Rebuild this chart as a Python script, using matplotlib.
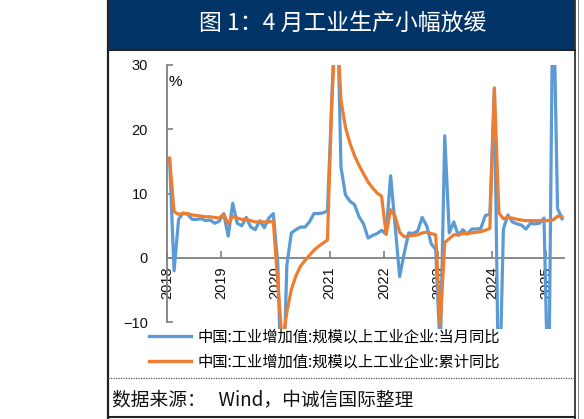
import numpy as np
import matplotlib
matplotlib.use('Agg')
import matplotlib.pyplot as plt
from matplotlib.lines import Line2D
from matplotlib.patches import Rectangle
import pandas as pd

# ---------------- data ----------------
months = pd.period_range('2018-01', '2025-04', freq='M')
year_labels = ['2018', '2019', '2020', '2021', '2022', '2023', '2024', '2025']

monthly_yoy = (
    [15.5, -2.0, 6.0, 7.0, 6.8, 6.0, 6.0, 6.1, 5.8, 5.9, 5.4, 5.7]      # 2018
    + [6.9, 3.4, 8.5, 5.4, 5.0, 6.3, 4.8, 4.4, 5.8, 4.7, 6.2, 6.9]     # 2019
    + [-1.0, -25.9, -1.1, 3.9, 4.4, 4.8, 4.8, 5.6, 6.9, 6.9, 7.0, 7.3]  # 2020
    + [25.0, 45.0, 14.1, 9.8, 8.8, 8.3, 6.4, 5.3, 3.1, 3.5, 3.8, 4.3]  # 2021
    + [3.7, 12.8, 5.0, -2.9, 0.7, 3.9, 3.8, 4.2, 6.3, 5.0, 2.2, 1.3]   # 2022
    + [-15.0, 19.0, 3.9, 5.6, 3.5, 4.4, 3.7, 4.5, 4.5, 4.6, 6.6, 6.8]  # 2023
    + [26.4, -25.0, 4.5, 6.7, 5.6, 5.3, 5.1, 4.5, 5.4, 5.3, 5.4, 6.2]  # 2024
    + [-25.0, 45.0, 7.7, 6.1]                                          # 2025
)
cumulative_yoy = (
    [15.5, 7.2, 6.8, 6.9, 6.9, 6.7, 6.6, 6.5, 6.4, 6.4, 6.3, 6.2]       # 2018
    + [6.8, 5.3, 6.5, 6.2, 6.0, 6.0, 5.8, 5.6, 5.6, 5.6, 5.6, 5.7]     # 2019
    + [-4.0, -13.5, -8.4, -4.9, -2.8, -1.3, -0.4, 0.4, 1.2, 1.8, 2.3, 2.8]  # 2020
    + [25.0, 38.0, 24.5, 20.3, 17.8, 15.9, 14.4, 13.1, 11.8, 10.9, 10.1, 9.6]  # 2021
    + [3.7, 7.5, 6.5, 4.0, 3.3, 3.4, 3.5, 3.6, 3.9, 4.0, 3.8, 3.6]     # 2022
    + [-10.5, 2.4, 3.0, 3.6, 3.6, 3.8, 3.8, 3.9, 4.0, 4.1, 4.3, 4.6]   # 2023
    + [26.4, 7.0, 6.1, 6.3, 6.2, 6.0, 5.9, 5.8, 5.8, 5.8, 5.8, 5.8]    # 2024
    + [5.8, 5.9, 6.5, 6.4]                                             # 2025
)
series_names = ['中国:工业增加值:规模以上工业企业:当月同比',
                '中国:工业增加值:规模以上工业企业:累计同比']
title_text = '图 1：4 月工业生产小幅放缓'
source_text = '数据来源：   Wind，中诚信国际整理'

# ---------------- figure ----------------
W, H = 584, 419
fig = plt.figure(figsize=(W / 100, H / 100), dpi=100)
fig.patch.set_facecolor('white')

def fx(px):
    return px / W

def fy(py):
    return 1 - py / H

cjk = ['Noto Sans CJK SC', 'DejaVu Sans']
num_font = ['Liberation Sans', 'DejaVu Sans']

# title bar
fig.add_artist(Rectangle((fx(108), fy(50)), fx(575) - fx(108), 50 / H,
                         transform=fig.transFigure, facecolor='#033468',
                         edgecolor='none', zorder=0))
fig.text(fx(343), fy(23), title_text, color='white', fontsize=16.5,
         ha='center', va='center', family=cjk)

# frame lines
def fline(xs, ys, **kw):
    fig.add_artist(Line2D([fx(v) for v in xs], [fy(v) for v in ys],
                          transform=fig.transFigure, **kw))

fline([108, 108], [0, 419], color='#222222', lw=1.6)
fline([575, 575], [0, 419], color='#333333', lw=1.3)
fline([577.5, 577.5], [0, 419], color='#888888', lw=0.8)
fline([108, 575], [50.5, 50.5], color='#222222', lw=1.5)
fline([108, 575], [378, 378], color='#555555', lw=0.9, ls=(0, (1, 1)))
fline([108, 575], [417, 417], color='#222222', lw=1.5)

# ---------------- axes ----------------
ymin, ymax = -11, 30
top_px, zero_px, per10 = 65.0, 258.0, 64.3
bot_px = zero_px + (-ymin) * per10 / 10
left_px, right_px = 167.3, 564.3
ax = fig.add_axes([fx(left_px), fy(bot_px), fx(right_px) - fx(left_px),
                   (bot_px - top_px) / H])
ax.set_facecolor('none')

x = np.arange(len(months)) + 0.5
ax.plot(x, monthly_yoy, color='#5B9BD5', lw=2.3, solid_joinstyle='round',
        label=series_names[0], zorder=3)
ax.plot(x, cumulative_yoy, color='#ED7D31', lw=2.3, solid_joinstyle='round',
        label=series_names[1], zorder=4)

ax.set_xlim(0, len(months))
ax.set_ylim(ymin, ymax)
for s in ['top', 'right']:
    ax.spines[s].set_visible(False)
axis_col = '#808080'
ax.spines['left'].set_color(axis_col)
ax.spines['left'].set_linewidth(1.3)
ax.spines['left'].set_bounds(-10, 30)
ax.spines['bottom'].set_position(('data', 0))
ax.spines['bottom'].set_color(axis_col)
ax.spines['bottom'].set_linewidth(1.3)

ax.set_yticks([-10, 0, 10, 20, 30])
ax.set_xticks(np.arange(len(year_labels)) * 12)
ax.set_xticklabels(year_labels, rotation=90)
ax.tick_params(axis='y', direction='in', length=4, width=1.2, color=axis_col,
               labelsize=10.5, pad=14)
ax.tick_params(axis='x', direction='in', length=5, width=1.2, color=axis_col,
               labelsize=10.5, pad=6)
for lab in ax.get_xticklabels() + ax.get_yticklabels():
    lab.set_family(num_font)
    lab.set_color('#111111')

ax.text(0.35, 27.4, '%', fontsize=11, family=num_font, ha='left', va='center')

leg = ax.legend(loc='upper left', bbox_to_anchor=(fx(149), fy(328)),
                bbox_transform=fig.transFigure, frameon=False,
                prop={'family': cjk, 'size': 11}, handlelength=2.75,
                handletextpad=0.45, labelspacing=0.55, borderpad=0,
                borderaxespad=0)
for h in leg.get_lines():
    h.set_linewidth(2.4)

fig.text(fx(112.5), fy(400), source_text, fontsize=13.5, family=cjk,
         ha='left', va='center', color='#111111')

fig.savefig('out.png', dpi=100)
